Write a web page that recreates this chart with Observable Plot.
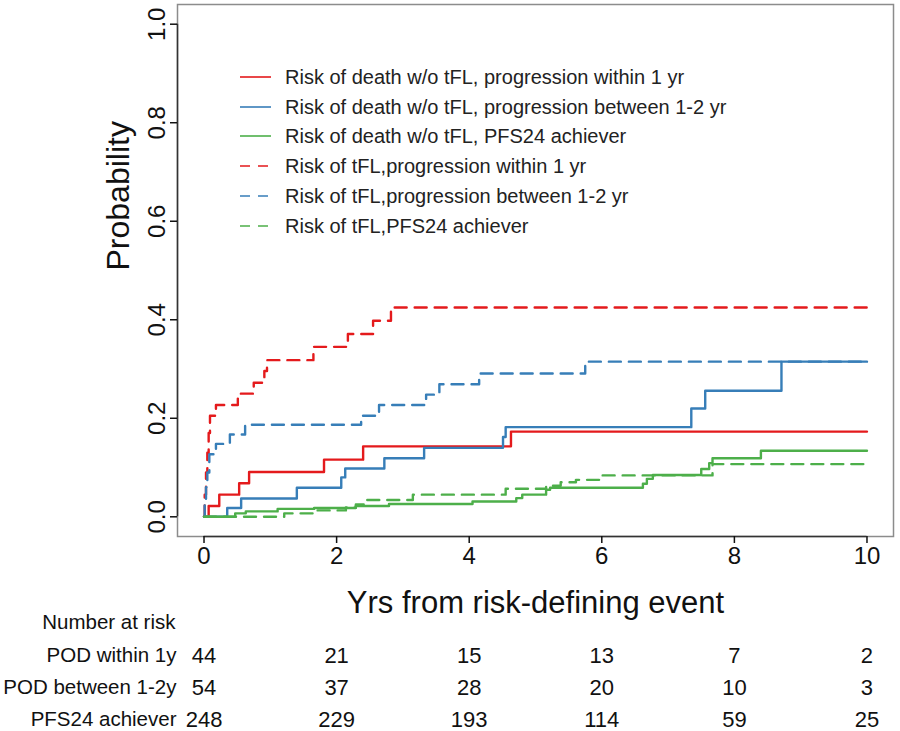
<!DOCTYPE html>
<html>
<head>
<meta charset="utf-8">
<script src="https://cdn.jsdelivr.net/npm/d3@7"></script>
<script src="https://cdn.jsdelivr.net/npm/@observablehq/plot@0.6"></script>
<style>
  html, body { margin: 0; padding: 0; background: #fff; }
  #wrap { position: relative; width: 900px; height: 731px; font-family: "Liberation Sans", Arial, sans-serif; }
  #legend { position: absolute; left: 240px; top: 0; }
  .lrow { position: absolute; left: 0; height: 24px; white-space: nowrap; }
  .lrow svg { position: absolute; left: 0; top: 0; }
  .lrow span { position: absolute; left: 45px; top: 0; line-height: 24px; font-size: 20px; color: #222; }
</style>
</head>
<body>
<div id="wrap"><div id="legend"></div></div>
<script>
// ---- data ----
const xTicks = [0, 2, 4, 6, 8, 10];
const yTicks = [0, 0.2, 0.4, 0.6, 0.8, 1.0];
const xDomain = [-0.4, 10.4];
const yDomain = [-0.04, 1.04];

// Risk of death w/o tFL
const deathWithin1T = [0, 0.07, 0.23, 0.53, 0.68, 1.81, 2.40, 4.63, 10];
const deathWithin1P = [0, 0.022, 0.045, 0.068, 0.091, 0.116, 0.143, 0.173, 0.173];
const deathBetweenT = [0, 0.35, 0.56, 1.40, 2.07, 2.13, 2.72, 3.32, 4.51, 4.55, 7.35, 7.56, 8.71, 10];
const deathBetweenP = [0, 0.018, 0.037, 0.059, 0.080, 0.098, 0.119, 0.140, 0.162, 0.182, 0.220, 0.256, 0.315, 0.315];
const deathPFS24T = [0, 0.47, 0.63, 1.11, 1.66, 2.29, 2.79, 4.05, 4.71, 4.80, 5.16, 5.22, 6.62, 6.68, 6.77, 7.50, 7.62, 7.67, 8.40, 10];
const deathPFS24P = [0, 0.007, 0.011, 0.016, 0.018, 0.022, 0.026, 0.031, 0.038, 0.045, 0.055, 0.059, 0.067, 0.077, 0.085, 0.097, 0.109, 0.119, 0.134, 0.134];

// Risk of tFL
const tflWithin1T = [0, 0.01, 0.03, 0.05, 0.07, 0.09, 0.18, 0.51, 0.75, 0.91, 0.95, 1.65, 2.17, 2.55, 2.82, 10];
const tflWithin1P = [0, 0.045, 0.09, 0.13, 0.17, 0.205, 0.227, 0.250, 0.272, 0.296, 0.318, 0.345, 0.371, 0.398, 0.425, 0.425];
const tflBetweenT = [0, 0.01, 0.03, 0.05, 0.08, 0.18, 0.39, 0.62, 2.37, 2.64, 3.35, 3.55, 4.15, 5.75, 10];
const tflBetweenP = [0, 0.03, 0.06, 0.09, 0.127, 0.148, 0.167, 0.187, 0.205, 0.227, 0.248, 0.269, 0.291, 0.315, 0.315];
const tflPFS24T = [0, 1.21, 1.66, 2.14, 2.29, 2.46, 3.15, 4.55, 5.16, 5.38, 5.61, 6.01, 7.67, 10];
const tflPFS24P = [0, 0.007, 0.013, 0.019, 0.025, 0.034, 0.045, 0.057, 0.063, 0.070, 0.075, 0.084, 0.107, 0.107];

const legendLabels = [
  "Risk of death w/o tFL, progression within 1 yr",
  "Risk of death w/o tFL, progression between 1-2 yr",
  "Risk of death w/o tFL, PFS24 achiever",
  "Risk of tFL,progression within 1 yr",
  "Risk of tFL,progression between 1-2 yr",
  "Risk of tFL,PFS24 achiever"
];
const seriesColors = ["#e41a1c", "#377eb8", "#4daf4a", "#e41a1c", "#377eb8", "#4daf4a"];
const seriesDash = [null, null, null, "12,8", "12,8", "12,8"];

const riskGroups = ["POD within 1y", "POD between 1-2y", "PFS24 achiever"];
const riskWithin1 = [44, 21, 15, 13, 7, 2];
const riskBetween = [54, 37, 28, 20, 10, 3];
const riskPFS24 = [248, 229, 193, 114, 59, 25];

const xTitle = "Yrs from risk-defining event";
const yTitle = "Probability";
const riskTitle = "Number at risk";

// ---- build ----
const seriesT = [deathWithin1T, deathBetweenT, deathPFS24T, tflWithin1T, tflBetweenT, tflPFS24T];
const seriesP = [deathWithin1P, deathBetweenP, deathPFS24P, tflWithin1P, tflBetweenP, tflPFS24P];
const riskRows = [riskWithin1, riskBetween, riskPFS24];

const lineMarks = seriesT.map((T, s) =>
  Plot.line(T.map((t, i) => ({t, p: seriesP[s][i]})), {
    x: "t", y: "p", curve: "step-after",
    stroke: seriesColors[s], strokeWidth: 2.4,
    strokeDasharray: seriesDash[s] || undefined
  })
);

const yBottom = () => yDomain[0];
const xLeft = () => xDomain[0];
const rowDy = [119, 151, 183];
const riskMarks = [];
riskRows.forEach((row, r) => {
  riskMarks.push(Plot.text(xTicks.map((t, i) => ({t, n: row[i]})), {
    x: "t", y: yBottom, text: d => String(d.n), dy: rowDy[r],
    fontSize: 22, fill: "#111"
  }));
  riskMarks.push(Plot.text([riskGroups[r]], {
    x: xLeft, y: yBottom, text: d => d, dx: -1, dy: rowDy[r],
    textAnchor: "end", fontSize: 20.5, fill: "#111"
  }));
});
riskMarks.push(Plot.text([riskTitle], {
  x: xLeft, y: yBottom, text: d => d, dx: -2, dy: 86,
  textAnchor: "end", fontSize: 20.5, fill: "#111"
}));

const chart = Plot.plot({
  width: 900, height: 731,
  marginLeft: 177, marginRight: 7, marginTop: 4, marginBottom: 195,
  style: {fontFamily: "'Liberation Sans', Arial, sans-serif", background: "#fff", overflow: "visible"},
  x: {domain: xDomain},
  y: {domain: yDomain, axis: null},
  marks: [
    Plot.frame({stroke: "#8c8c8c", strokeWidth: 1.5}),
    ...lineMarks,
    Plot.ruleY([yDomain[0]], {x1: xTicks[0], x2: xTicks[xTicks.length - 1], stroke: "#333", strokeWidth: 1.5}),
    Plot.ruleX([xDomain[0]], {y1: yTicks[0], y2: yTicks[yTicks.length - 1], stroke: "#333", strokeWidth: 1.5}),
    Plot.axisX(xTicks, {tickSize: 7, tickPadding: 3, fontSize: 24, label: null, color: "#111", strokeWidth: 1.5}),
    // y tick marks: short outward rules at the left frame edge
    Plot.ruleY(yTicks, {x1: xLeft, x2: xLeft, insetLeft: -7, stroke: "#111", strokeWidth: 1.5}),
    Plot.text(yTicks, {y: d => d, text: d => d3.format(".1f")(d), frameAnchor: "left", dx: -20,
      rotate: -90, textAnchor: "middle", lineAnchor: "middle", fontSize: 24, fill: "#111"}),
    Plot.text([yTitle], {text: d => d, frameAnchor: "left", dx: -59, rotate: -90, fontSize: 32, fill: "#111"}),
    Plot.text([xTitle], {text: d => d, frameAnchor: "bottom", y: yBottom, dy: 76, fontSize: 31, fill: "#111"}),
    ...riskMarks
  ]
});
const wrap = document.getElementById("wrap");
wrap.insertBefore(chart, wrap.firstChild);

// legend (inside plot area, top-left)
const legend = document.getElementById("legend");
legendLabels.forEach((lab, i) => {
  const row = document.createElement("div");
  row.className = "lrow";
  row.style.top = (76.7 + 29.8 * i - 12) + "px";
  const dash = seriesDash[i] ? 'stroke-dasharray="10,8"' : "";
  row.innerHTML = `<svg width="34" height="24"><line x1="0" x2="31" y1="12" y2="12" stroke="${seriesColors[i]}" stroke-width="1.6" ${dash}/></svg><span>${lab}</span>`;
  legend.appendChild(row);
});
</script>
</body>
</html>
